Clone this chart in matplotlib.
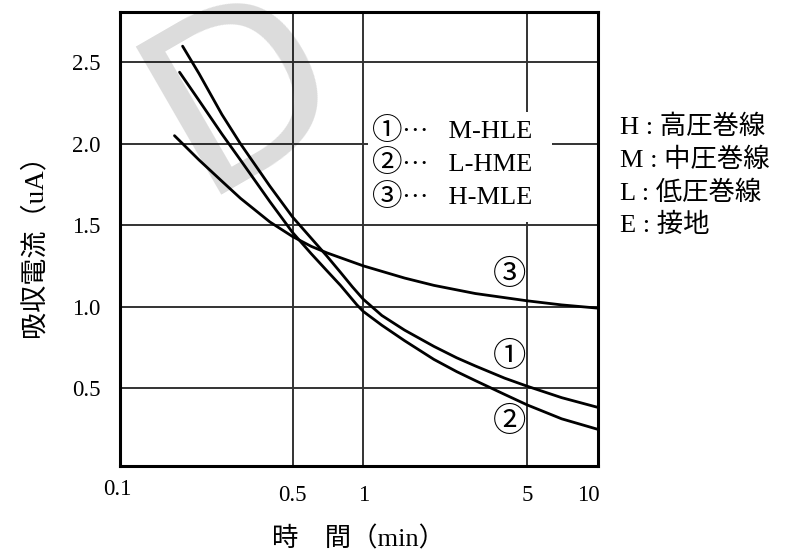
import numpy as np
import matplotlib.pyplot as plt
import matplotlib.transforms as mtransforms
from matplotlib.patches import Rectangle

plt.rcParams['font.family'] = ['Liberation Serif', 'Noto Sans CJK JP']

# 吸収電流の時間変化 (読み取り値)
t_mhle = [0.17, 0.2, 0.25, 0.3, 0.4, 0.5, 0.6, 0.7, 0.8, 0.9, 1.0, 1.2, 1.5, 2.0, 2.5, 3.0, 4.0, 5.0, 7.0, 10.0]
i_mhle = [2.60, 2.43, 2.18, 2.00, 1.74, 1.55, 1.42, 1.31, 1.21, 1.12, 1.045, 0.945, 0.855, 0.755, 0.685, 0.635, 0.56, 0.51, 0.44, 0.38]

t_lhme = [0.165, 0.2, 0.25, 0.3, 0.4, 0.5, 0.6, 0.7, 0.8, 0.94, 1.0, 1.2, 1.5, 2.0, 2.5, 3.0, 4.0, 5.0, 7.0, 10.0]
i_lhme = [2.44, 2.265, 2.06, 1.90, 1.645, 1.455, 1.325, 1.22, 1.13, 1.01, 0.97, 0.885, 0.79, 0.675, 0.60, 0.545, 0.46, 0.395, 0.31, 0.245]

t_hmle = [0.157, 0.2, 0.25, 0.3, 0.4, 0.5, 0.6, 0.7, 0.8, 1.0, 1.5, 2.0, 3.0, 5.0, 7.0, 10.0]
i_hmle = [2.05, 1.90, 1.77, 1.665, 1.52, 1.43, 1.37, 1.33, 1.30, 1.25, 1.175, 1.13, 1.08, 1.035, 1.01, 0.99]

marks = ["①", "②", "③"]
names = ["M-HLE", "L-HME", "H-MLE"]
label_pos = [(4.2, 0.69), (4.2, 0.29), (4.2, 1.19)]

xticks = [0.1, 0.5, 1, 5, 10]
xticklabels = ["0.1", "0.5", "1", "5", "10"]
yticks = [0.5, 1.0, 1.5, 2.0, 2.5]
gridx = [0.5, 1, 5]

keys = ["H", "M", "L", "E"]
key_names = ["高圧巻線", "中圧巻線", "低圧巻線", "接地"]

fig = plt.figure(figsize=(7.85, 5.53), dpi=100)
ax = fig.add_axes([120/785, 1 - 466/553, 478/785, 454/553])

ax.set_xscale("log")
ax.set_xlim(0.092, 10)
ax.set_ylim(0.02, 2.81)

for gx in gridx:
    ax.axvline(gx, color="#333333", lw=1.4, zorder=1)
for gy in yticks:
    ax.axhline(gy, color="#333333", lw=1.4, zorder=1)

for t, i in [(t_mhle, i_mhle), (t_lhme, i_lhme), (t_hmle, i_hmle)]:
    ax.plot(t, i, color="black", lw=2.0, zorder=3, solid_capstyle="round")

for m, (x, y) in zip(marks, label_pos):
    ax.text(x, y, m, ha="center", va="center", fontsize=24, zorder=4)

# 凡例 (白地で格子を隠す)
ax.add_patch(Rectangle((0.519, 0.537), 0.385, 0.242, transform=ax.transAxes,
                       facecolor="white", edgecolor="none", zorder=4))
for k, (m, n) in enumerate(zip(marks, names)):
    yy = (466 - (132 + 33*k)) / 454
    ax.text((372 - 120)/478, yy, m, transform=ax.transAxes, ha="left", va="center",
            fontsize=22, zorder=5)
    ax.text((402 - 120)/478, yy, "···   " + n, transform=ax.transAxes, ha="left",
            va="center", fontsize=19, zorder=5)

ax.set_xticks(xticks)
ax.set_xticklabels(xticklabels)
ax.xaxis.set_minor_locator(plt.NullLocator())
ax.set_yticks(yticks)
ax.set_yticklabels([f"{v:.1f}" for v in yticks])
ax.tick_params(axis="both", length=0, labelsize=16.5)
ax.tick_params(axis="x", pad=14)
ax.tick_params(axis="y", pad=14)
for s in ax.spines.values():
    s.set_linewidth(2.2)

# 端の目盛ラベルを少しずらす
xlabs = ax.get_xticklabels()
xlabs[0].set_transform(xlabs[0].get_transform() + mtransforms.ScaledTranslation(-0.11, 0.06, fig.dpi_scale_trans))
xlabs[-1].set_transform(xlabs[-1].get_transform() + mtransforms.ScaledTranslation(-0.10, 0, fig.dpi_scale_trans))

ax.set_xlabel("時　間（min）", fontsize=19, labelpad=14)
ax.set_ylabel("吸収電流（uA）", fontsize=19.5, labelpad=18)

for k, (key, nm) in enumerate(zip(keys, key_names)):
    fig.text(620/785, 1 - (127 + 32.7*k)/553, key + " : " + nm,
             ha="left", va="center", fontsize=19)

# 透かし
fig.text(244/785, 1 - 94/553, "D", rotation=30,
         ha="center", va="center", fontsize=168, family="DejaVu Sans",
         color="black", alpha=0.14, zorder=10)

fig.savefig("out.png", dpi=100)
